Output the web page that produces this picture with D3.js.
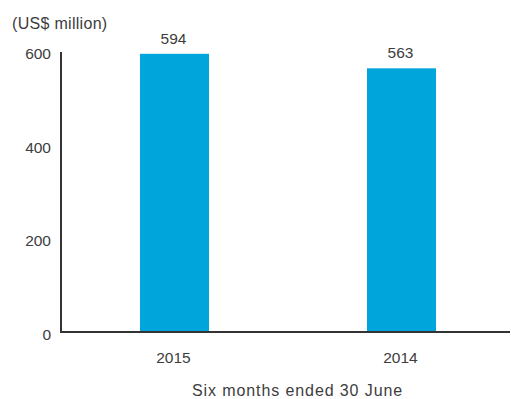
<html>
<head>
<script src="https://cdn.jsdelivr.net/npm/d3@7"></script>
<style>
  body { margin: 0; background: #fff; }
  text { font-family: "Liberation Sans", Arial, sans-serif; fill: #3d3d3d; }
</style>
</head>
<body>
<svg width="511" height="399"></svg>
<script>
const years = ["2015", "2014"];
const values = [594, 563];
const yTicks = [0, 200, 400, 600];

const svg = d3.select("svg");
const x0 = 61, xEnd = 510, base = 332;

const x = d3.scalePoint().domain(years).range([x0, 515]).padding(0.5);
const y = d3.scaleLinear().domain([0, 600]).range([base, 51]);
const barW = 69;

// bars
svg.selectAll("rect.bar")
  .data(years)
  .join("rect")
  .attr("class", "bar")
  .attr("x", d => x(d) - barW / 2)
  .attr("width", barW)
  .attr("y", (d, i) => y(values[i]))
  .attr("height", (d, i) => base - y(values[i]))
  .attr("fill", "#00a5db");

// value labels
svg.selectAll("text.val")
  .data(years)
  .join("text")
  .attr("class", "val")
  .attr("x", d => x(d) - 1)
  .attr("y", (d, i) => y(values[i]) - 10)
  .attr("text-anchor", "middle")
  .attr("font-size", 15.5)
  .text((d, i) => values[i]);

// y axis labels
svg.selectAll("text.ytick")
  .data(yTicks)
  .join("text")
  .attr("class", "ytick")
  .attr("x", 51)
  .attr("y", d => y(d) + 8)
  .attr("text-anchor", "end")
  .attr("font-size", 15.5)
  .text(d => d);

// x axis labels
svg.selectAll("text.xtick")
  .data(years)
  .join("text")
  .attr("class", "xtick")
  .attr("x", d => x(d) - 1)
  .attr("y", 363)
  .attr("text-anchor", "middle")
  .attr("font-size", 15.5)
  .text(d => d);

// axes lines
svg.append("path")
  .attr("d", d3.line()([[x0, 52], [x0, base], [xEnd, base]]))
  .attr("fill", "none")
  .attr("stroke", "#333")
  .attr("stroke-width", 2);

svg.append("text")
  .attr("x", 12).attr("y", 29)
  .attr("font-size", 16)
  .attr("letter-spacing", 0.3)
  .text("(US$ million)");

svg.append("text")
  .attr("x", 192).attr("y", 396)
  .attr("font-size", 16)
  .attr("letter-spacing", 0.9)
  .text("Six months ended 30 June");
</script>
</body>
</html>
